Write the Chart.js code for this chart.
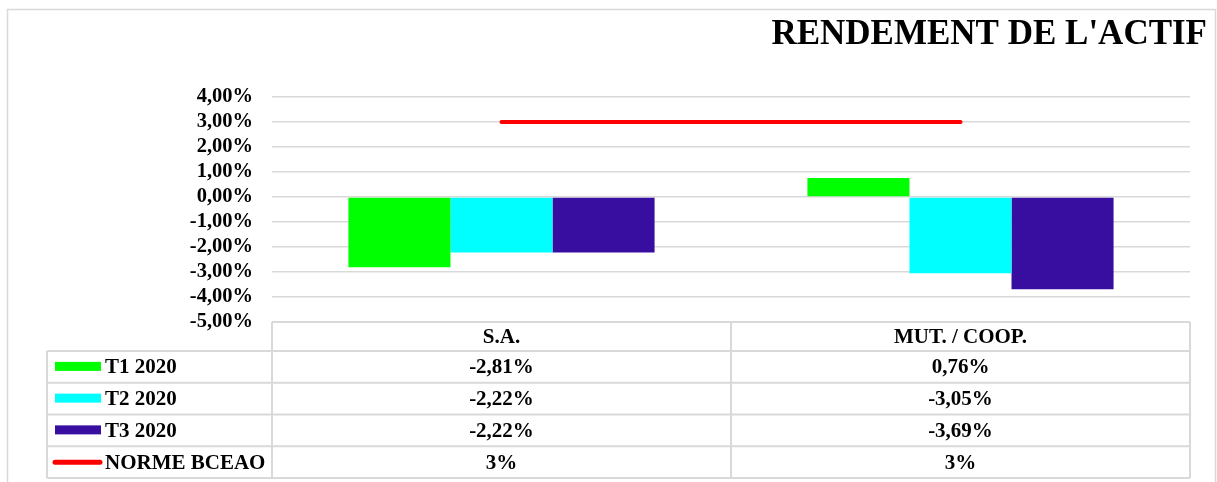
<!DOCTYPE html>
<html>
<head>
<meta charset="utf-8">
<script src="https://cdn.jsdelivr.net/npm/chart.js@4/dist/chart.umd.min.js"></script>
<style>
  html, body { margin: 0; padding: 0; background: #fff; }
  #wrap { position: absolute; left: 0; top: 0; width: 1217px; height: 482px; }
</style>
</head>
<body>
<div id="wrap"><canvas id="c"></canvas></div>
<script>
const categories = ['S.A.', 'MUT. / COOP.'];
const t1_2020 = [-2.81, 0.76];
const t2_2020 = [-2.22, -3.05];
const t3_2020 = [-2.22, -3.69];
const normeBceao = [3, 3];
const chartTitle = "RENDEMENT DE L'ACTIF";

const FONT = "'Liberation Serif', 'Times New Roman', serif";
const GRID = '#d9d9d9';

function pct(v, dec) {
  return v.toFixed(dec).replace('.', ',') + '%';
}

// frame, title and data table under the plot
const tablePlugin = {
  id: 'tablePlugin',
  beforeDraw(chart) {
    const ctx = chart.ctx;
    ctx.save();
    ctx.strokeStyle = GRID;
    ctx.lineWidth = 1.5;
    ctx.strokeRect(7.5, 9.5, 1208, 520);
    ctx.restore();
  },
  afterDraw(chart) {
    const ctx = chart.ctx;
    const area = chart.chartArea;
    const x = chart.scales.x;
    const catW = (x.right - x.left) / categories.length;

    ctx.save();
    ctx.fillStyle = '#000';
    ctx.font = 'bold 35px ' + FONT;
    ctx.textAlign = 'right';
    ctx.textBaseline = 'middle';
    ctx.fillText(chartTitle, 1207, 35);

    const rows = chart.data.datasets.map((ds, i) => ({
      ds: ds,
      texts: ds.data.map(v => pct(v, ds.type === 'line' ? 0 : 2))
    }));
    const top = area.bottom;
    const headH = 29;
    const rowH = 31.75;
    const tableLeft = 47;
    const bottom = top + headH + rowH * rows.length;

    ctx.strokeStyle = GRID;
    ctx.lineWidth = 2;
    ctx.beginPath();
    ctx.moveTo(area.left, top); ctx.lineTo(x.right, top);
    for (let r = 0; r <= rows.length; r++) {
      const y = top + headH + r * rowH;
      ctx.moveTo(tableLeft, y); ctx.lineTo(x.right, y);
    }
    ctx.moveTo(tableLeft, top + headH); ctx.lineTo(tableLeft, bottom);
    for (let c = 0; c <= categories.length; c++) {
      const cx = x.left + c * catW;
      ctx.moveTo(cx, top); ctx.lineTo(cx, bottom);
    }
    ctx.stroke();

    ctx.font = 'bold 21px ' + FONT;
    ctx.textAlign = 'center';
    ctx.fillStyle = '#000';
    categories.forEach((cat, i) => {
      ctx.fillText(cat, x.getPixelForValue(i), top + headH / 2 + 1);
    });

    rows.forEach((row, r) => {
      const cy = top + headH + r * rowH + rowH / 2;
      if (row.ds.type === 'line') {
        ctx.strokeStyle = row.ds.borderColor;
        ctx.lineWidth = 5;
        ctx.lineCap = 'round';
        ctx.beginPath();
        ctx.moveTo(55, cy); ctx.lineTo(100, cy);
        ctx.stroke();
      } else {
        ctx.fillStyle = row.ds.backgroundColor;
        ctx.fillRect(55, cy - 5, 46, 9);
      }
      ctx.fillStyle = '#000';
      ctx.textAlign = 'left';
      ctx.fillText(row.ds.label, 105, cy + 1);
      ctx.textAlign = 'center';
      row.texts.forEach((t, i) => {
        ctx.fillText(t, x.getPixelForValue(i), cy + 1);
      });
    });
    ctx.restore();
  }
};

new Chart(document.getElementById('c'), {
  type: 'bar',
  data: {
    labels: categories,
    datasets: [
      { label: 'T1 2020', data: t1_2020, backgroundColor: '#00ff00', order: 2 },
      { label: 'T2 2020', data: t2_2020, backgroundColor: '#00ffff', order: 2 },
      { label: 'T3 2020', data: t3_2020, backgroundColor: '#380ea0', order: 2 },
      {
        type: 'line', label: 'NORME BCEAO', data: normeBceao,
        borderColor: '#ff0000', backgroundColor: '#ff0000',
        borderWidth: 4, borderCapStyle: 'round', pointRadius: 0, order: 1
      }
    ]
  },
  options: {
    responsive: true,
    maintainAspectRatio: false,
    animation: false,
    layout: { padding: { top: 97, right: 27, bottom: 160, left: 0 } },
    datasets: { bar: { categoryPercentage: 0.667, barPercentage: 1 } },
    scales: {
      x: { display: false },
      y: {
        min: -5,
        max: 4,
        afterFit(scale) { scale.width = 272; },
        border: { display: false },
        grid: { color: GRID, lineWidth: 1.5, drawTicks: false },
        ticks: {
          stepSize: 1,
          autoSkip: false,
          padding: 19,
          color: '#000',
          font: { family: FONT, size: 20.5, weight: 'bold', lineHeight: 1 },
          callback: v => pct(v, 2)
        }
      }
    },
    plugins: {
      legend: { display: false },
      title: { display: false },
      tooltip: { enabled: false }
    }
  },
  plugins: [tablePlugin]
});
</script>
</body>
</html>
